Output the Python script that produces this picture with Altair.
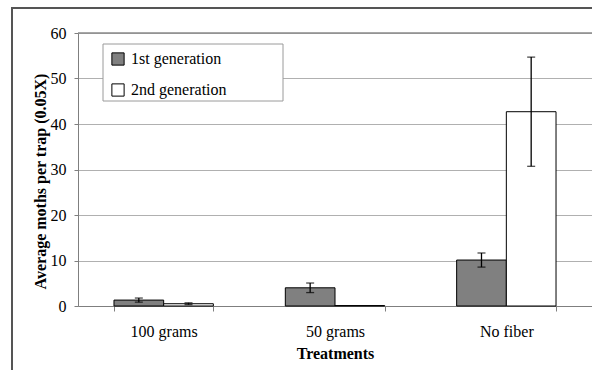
import altair as alt
import pandas as pd

treatments = ["100 grams", "50 grams", "No fiber"]
generations = ["1st generation", "2nd generation"]
gen1_values = [1.3, 4.0, 10.1]
gen1_errors = [0.45, 1.05, 1.55]
gen2_values = [0.5, 0.1, 42.7]
gen2_errors = [0.2, 0.0, 12.0]
y_ticks = [0, 10, 20, 30, 40, 50, 60]

rows = []
for i, t in enumerate(treatments):
    for g, vals, errs in ((generations[0], gen1_values, gen1_errors),
                          (generations[1], gen2_values, gen2_errors)):
        rows.append({"Treatment": t, "Generation": g, "Value": vals[i],
                     "Lo": vals[i] - errs[i], "Hi": vals[i] + errs[i],
                     "Err": errs[i]})
df = pd.DataFrame(rows)
df_err = df[df["Err"] > 0]

FONT = "Liberation Serif"

x_enc = alt.X("Treatment:N", sort=treatments,
              scale=alt.Scale(paddingInner=0.42, paddingOuter=0.21),
              axis=alt.Axis(title="Treatments", labelAngle=0, tickBand="extent",
                            tickSize=5, labelPadding=12, titleFontWeight="bold",
                            labelFont=FONT, titleFont=FONT,
                            titleY=47, titleBaseline="middle"))
xoff = alt.XOffset("Generation:N", sort=generations,
                   scale=alt.Scale(paddingInner=0, paddingOuter=0))

bars = alt.Chart(df).mark_bar(stroke="black", strokeWidth=1).encode(
    x=x_enc,
    xOffset=xoff,
    y=alt.Y("Value:Q", scale=alt.Scale(domain=[0, 60], nice=False),
            axis=alt.Axis(title="Average moths per trap (0.05X)", values=y_ticks,
                          tickSize=4, labelPadding=8, titleFontWeight="bold",
                          labelFont=FONT, titleFont=FONT,
                          titleX=-38, titleY=148, titleAngle=-90,
                          titleBaseline="middle", titleAlign="center")),
    fill=alt.Fill("Generation:N", sort=generations,
                  scale=alt.Scale(domain=generations, range=["#808080", "#ffffff"]),
                  legend=alt.Legend(title=None, orient="none", legendX=25, legendY=11,
                                    symbolType="square", symbolSize=150,
                                    symbolStrokeColor="black", symbolStrokeWidth=1,
                                    labelFont=FONT, labelFontSize=16, labelOffset=5,
                                    labelColor="black",
                                    padding=7, rowPadding=13)),
)

rules = alt.Chart(df_err).mark_rule(color="black", strokeWidth=1.3).encode(
    x=alt.X("Treatment:N", sort=treatments), xOffset=xoff,
    y="Lo:Q", y2="Hi:Q")
cap_lo = alt.Chart(df_err).mark_tick(color="black", size=8, thickness=1.3).encode(
    x=alt.X("Treatment:N", sort=treatments), xOffset=xoff, y="Lo:Q")
cap_hi = alt.Chart(df_err).mark_tick(color="black", size=8, thickness=1.3).encode(
    x=alt.X("Treatment:N", sort=treatments), xOffset=xoff, y="Hi:Q")

one = pd.DataFrame({"k": [0]})
frame_top = alt.Chart(one).mark_rect(fill="#555555", strokeWidth=0).encode(
    x=alt.value(-67), x2=alt.value(514), y=alt.value(-26), y2=alt.value(-24))
frame_left = alt.Chart(one).mark_rect(fill="#555555", strokeWidth=0).encode(
    x=alt.value(-67), x2=alt.value(-65), y=alt.value(-26), y2=alt.value(337))
legend_box = alt.Chart(one).mark_rect(
    fill="white", stroke="#9a9a9a", strokeWidth=1).encode(
    x=alt.value(25), x2=alt.value(205), y=alt.value(11), y2=alt.value(68))
top_line = alt.Chart(pd.DataFrame({"v": [y_ticks[-1]]})).mark_rule(
    color="#8a8a8a", strokeWidth=1.5).encode(y="v:Q")

chart = alt.layer(frame_top, frame_left, top_line, legend_box, bars, rules,
                  cap_lo, cap_hi).properties(
    width=514, height=273,
    autosize=alt.AutoSizeParams(type="none"),
    padding={"left": 78, "top": 33, "right": 0, "bottom": 64},
    background="white",
).configure(font=FONT).configure_view(stroke="transparent", strokeWidth=0).configure_axis(
    labelFont=FONT, titleFont=FONT, labelFontSize=16, titleFontSize=16,
    labelColor="black", titleColor="black", domainColor="#7f7f7f",
    tickColor="#7f7f7f", gridColor="#b0b0b0",
).configure_axisX(grid=False).configure_axisY(grid=True)

chart.save("out.html", embed_options={"renderer": "svg", "actions": False})
